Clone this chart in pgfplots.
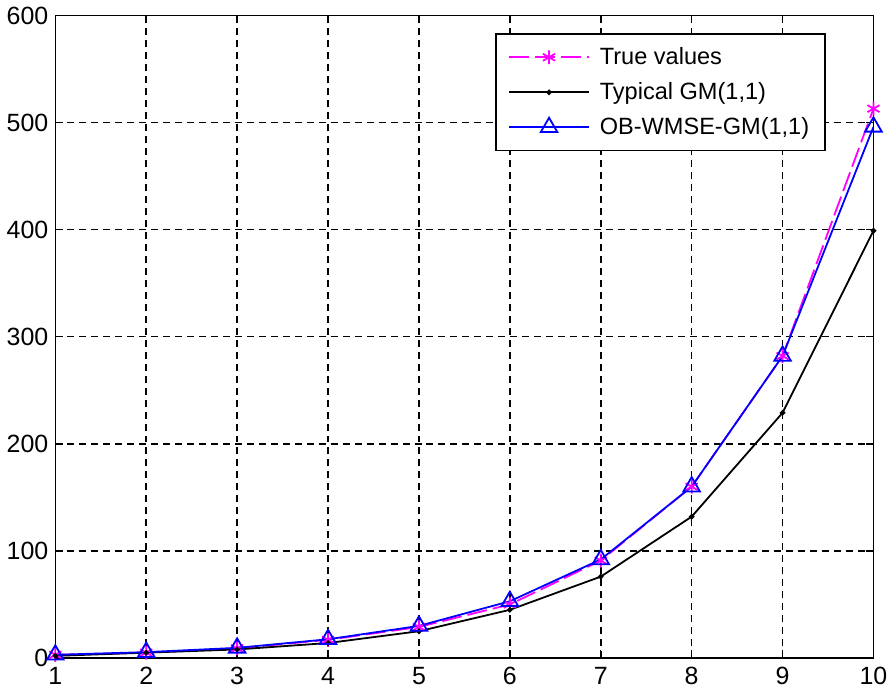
\documentclass[border=0pt]{standalone}
\usepackage{pgfplots}
\pgfplotsset{compat=1.18}
\usepackage{fontspec}
\setmainfont{Liberation Sans}
\definecolor{mplmagenta}{rgb}{1,0,1}
\definecolor{mplblue}{rgb}{0,0,1}

\begin{document}
\begin{tikzpicture}
\begin{axis}[
  scale only axis,
  width=410pt, height=322pt,
  xmin=1, xmax=10, ymin=0, ymax=600,
  xtick={1,...,10},
  ytick={0,100,...,600},
  tick align=inside,
  major tick length=4pt,
  tick style={black, line width=0.7pt},
  axis line style={black, line width=0.8pt},
  grid=major,
  major grid style={black, line width=0.75pt, dash pattern=on 3.5pt off 2.5pt},
  ticklabel style={font=\fontsize{12.5}{15}\selectfont},
  /pgf/number format/assume math mode=true,
  xticklabel style={yshift=-1pt},
  legend style={
    at={(0.538,0.972)}, anchor=north west,
    draw=black, line width=0.8pt, fill=white,
    font=\fontsize{11.8}{14}\selectfont,
    cells={anchor=west},
    inner xsep=6pt, inner ysep=4.5pt,
    row sep=3.5pt,
  },
  legend image code/.code={
    \path (0pt,0pt) (43pt,0pt);
    \draw[mark repeat=2, mark phase=2, line width=0.9pt]
      plot coordinates {(0pt,0pt) (20pt,0pt) (40pt,0pt)};
  },
]
\addplot[mplmagenta, line width=0.9pt, dash pattern=on 10pt off 3pt,
  mark=asterisk, mark size=3.5pt, mark options={solid}]
  coordinates {(1,3) (2,5) (3,9) (4,17) (5,29) (6,50) (7,91) (8,160) (9,282) (10,513)};
\addlegendentry{True values}
\addplot[black, line width=0.9pt, mark=*, mark size=0.9pt]
  coordinates {(1,2) (2,5) (3,8) (4,14) (5,25) (6,45) (7,76) (8,132) (9,229) (10,399)};
\addlegendentry{Typical GM(1,1)}
\addplot[mplblue, line width=0.9pt, mark=triangle, mark size=4.8pt, mark options={solid}]
  coordinates {(1,3) (2,5.5) (3,9.5) (4,17.5) (5,30) (6,53) (7,92) (8,160) (9,282) (10,496)};
\addlegendentry{OB-WMSE-GM(1,1)}
\end{axis}
\end{tikzpicture}
\end{document}
